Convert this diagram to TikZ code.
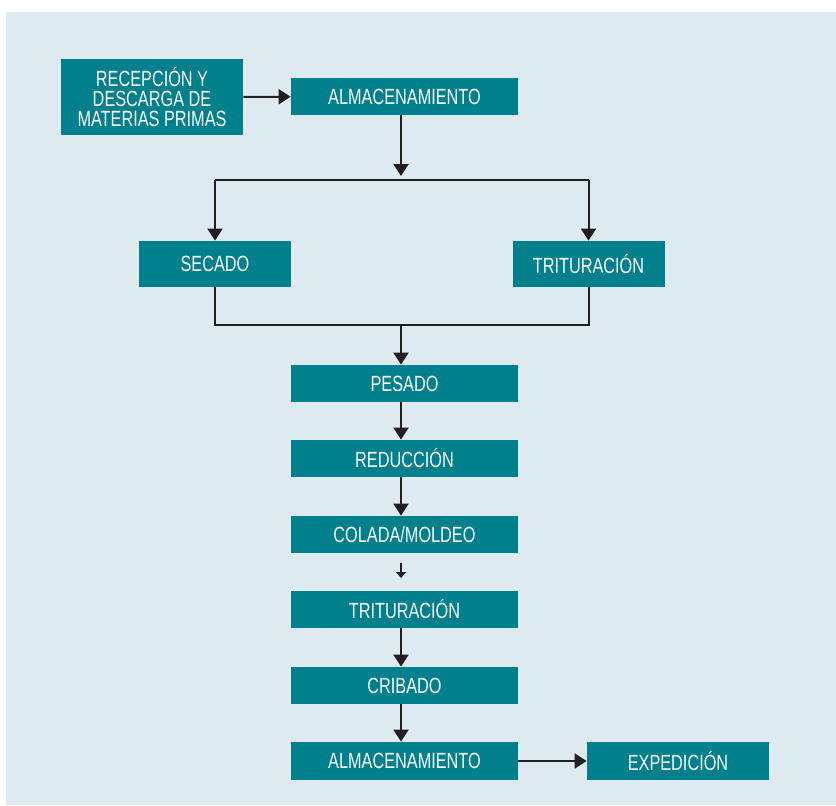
\documentclass[tikz,border=0pt]{standalone}
\usepackage{fontspec}
\setmainfont{Liberation Sans}[FakeStretch=0.74]
\usepackage{tikz}
\usetikzlibrary{arrows.meta,positioning}
\definecolor{fondo}{HTML}{DDEBF0}
\definecolor{caja}{HTML}{00808C}
\definecolor{flecha}{HTML}{231F20}
\tikzset{
  paso/.style = {draw = none, fill = caja, text = white, align = center,
    font = \fontsize{11}{9.8}\selectfont, inner sep = 0pt},
  ancho/.style = {paso, minimum width = 113.5pt, minimum height = 18.5pt},
  lado/.style = {paso, minimum width = 76pt, minimum height = 23pt},
  flujo/.style = {draw = flecha, line width = 1pt},
  punta/.style = {flujo, -{Triangle[length = 6pt, width = 7.5pt]}}
}

\begin{document}
\begin{tikzpicture}[x = .5pt, y = -.5pt]
\useasboundingbox (0,0) rectangle (836,805);
\fill[fondo] (6,12) rectangle (836,805);
\node[paso, minimum width = 91pt, minimum height = 38pt] (recepcion) at (152,97) {RECEPCIÓN Y\\DESCARGA DE\\MATERIAS PRIMAS};
\node[ancho] (alm_a) at (404.5,96.5) {ALMACENAMIENTO};
\node[lado] (secado) at (215,264) {SECADO};
\node[lado] (trit_a) at (588.5,264) {TRITURACIÓN};
\node[ancho] (pesado) at (404.5,383.5) {PESADO};
\node[ancho] (reduccion) at (404.5,458.5) {REDUCCIÓN};
\node[ancho] (colada) at (404.5,534.5) {COLADA/MOLDEO};
\node[ancho] (trit_b) at (404.5,609.5) {TRITURACIÓN};
\node[ancho] (cribado) at (404.5,685.5) {CRIBADO};
\node[ancho, minimum height = 19pt] (alm_b) at (404.5,761) {ALMACENAMIENTO};
\node[paso, minimum width = 91pt, minimum height = 19pt] (expedicion) at (678,761) {EXPEDICIÓN};
\coordinate (reparto) at (401,180);
\coordinate (union) at (401,325);
\coordinate (corte_a) at (401,563);
\coordinate (corte_b) at (401,578);
% entrada
\draw[punta] (recepcion) -- (alm_a);
% reparto a secado y trituracion
\draw[punta] (alm_a.south -| reparto) -- ([yshift = 2pt]reparto);
\draw[flujo] (secado.north |- reparto) -- (trit_a.north |- reparto);
\draw[punta] (secado.north |- reparto) -- (secado);
\draw[punta] (trit_a.north |- reparto) -- (trit_a);
% union
\draw[flujo] (secado) -- (secado.south |- union) -- (trit_a.south |- union) -- (trit_a);
\draw[punta] (union) -- (pesado.north -| union);
% linea central
\draw[punta] (pesado.south -| union) -- (reduccion.north -| union);
\draw[punta] (reduccion.south -| union) -- (colada.north -| union);
\draw[flujo, -{Triangle[length = 3pt, width = 5pt]}] (corte_a) -- (corte_b);
\draw[punta] (trit_b.south -| union) -- (cribado.north -| union);
\draw[punta] (cribado.south -| union) -- (alm_b.north -| union);
\draw[punta] (alm_b) -- (expedicion);
\end{tikzpicture}
\end{document}
